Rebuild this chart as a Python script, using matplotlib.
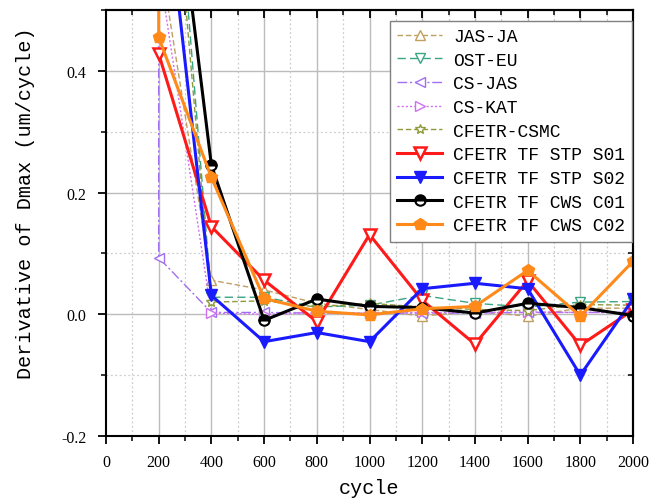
import matplotlib
matplotlib.use("Agg")
import matplotlib.pyplot as plt
from matplotlib.ticker import MultipleLocator

# ---- data ----
cycles = [200, 400, 600, 800, 1000, 1200, 1400, 1600, 1800, 2000]
cycles_dup = [200, 200, 400, 600, 800, 1000, 1200, 1400, 1600, 1800, 2000]

jas_ja = [0.60, 0.056, 0.040, 0.018, 0.008, -0.003, 0.005, -0.003, 0.010, 0.010]
ost_eu = [1.10, 0.028, 0.028, 0.012, 0.015, 0.031, 0.018, 0.012, 0.020, 0.021]
cs_jas = [0.60, 0.093, 0.003, 0.003, 0.002, 0.002, 0.002, 0.002, 0.003, 0.003, 0.003]
cs_kat = [0.57, 0.002, 0.000, 0.002, 0.002, 0.003, 0.003, 0.004, 0.003, 0.003]
csmc = [1.02, 0.020, 0.022, 0.012, 0.018, 0.012, 0.008, 0.006, 0.016, 0.015]
stp_s01 = [0.428, 0.144, 0.056, -0.012, 0.131, 0.023, -0.049, 0.055, -0.051, 0.007]
stp_s02 = [0.80, 0.031, -0.045, -0.030, -0.045, 0.042, 0.051, 0.042, -0.100, 0.025]
cws_c01 = [0.948, 0.245, -0.010, 0.025, 0.013, 0.011, 0.002, 0.018, 0.011, -0.002]
cws_c02 = [0.90, 0.455, 0.225, 0.026, 0.005, -0.001, 0.009, 0.013, 0.072, -0.003, 0.087]

x_ticks = list(range(0, 2001, 200))
y_ticks = [-0.2, 0.0, 0.2, 0.4]

mono = "Liberation Mono"
serif = "Liberation Serif"

fig = plt.figure(figsize=(6.65, 5.02), dpi=100)
ax = fig.add_axes([106 / 665, 1 - 437 / 502, 527 / 665, 426 / 502])

# grid
for yv in y_ticks:
    ax.axhline(yv, color="#bcbcbc", lw=1.0, zorder=0)
for yv in [-0.1, 0.1, 0.3]:
    ax.axhline(yv, color="#cccccc", lw=0.9, ls=(0, (1.5, 2)), zorder=0)
for xv in range(200, 2000, 200):
    ax.axvline(xv, color="#bcbcbc", lw=1.0, zorder=0)
for xv in range(100, 2000, 200):
    ax.axvline(xv, color="#cccccc", lw=0.9, ls=(0, (1.5, 2)), zorder=0)

thin = dict(lw=1.0, ms=7, mfc="white", mew=1.0)
ax.plot(cycles, jas_ja, ls=(0, (4, 2)), marker="^", color="#c0a060", label="JAS-JA", **thin)
ax.plot(cycles, ost_eu, ls=(0, (6, 3)), marker="v", color="#3aa584", label="OST-EU", **thin)
ax.plot(cycles_dup, cs_jas, ls=(0, (7, 2, 1.5, 2)), marker="<", color="#a070f0", label="CS-JAS", **thin)
ax.plot(cycles, cs_kat, ls=(0, (1.5, 1.5)), marker=">", color="#d070f0", label="CS-KAT", **thin)
ax.plot(cycles, csmc, ls=(0, (4, 2)), marker="*", color="#8f9a3a", label="CFETR-CSMC", **thin)

ax.plot(cycles, stp_s01, lw=2.2, color="#ff1a1a", marker="v", ms=8, mfc="white",
        mec="#ff1a1a", mew=1.8, label="CFETR TF STP S01")
ax.plot(cycles, stp_s02, lw=2.2, color="#1a1aff", marker="v", ms=8,
        label="CFETR TF STP S02")
ax.plot(cycles, cws_c01, lw=2.2, color="black", marker="o", ms=7.5, fillstyle="top",
        mfc="black", mfcalt="white", mec="black", mew=1.5, label="CFETR TF CWS C01")
ax.plot(cycles_dup, cws_c02, lw=2.2, color="#ff8a1a", marker="p", ms=9,
        label="CFETR TF CWS C02")

ax.set_xlim(0, 2000)
ax.set_ylim(-0.2, 0.5)
ax.set_xticks(x_ticks)
ax.set_yticks(y_ticks)
ax.set_yticklabels(["-0.2", "0.0", "0.2", "0.4"])
ax.xaxis.set_minor_locator(MultipleLocator(100))
ax.yaxis.set_minor_locator(MultipleLocator(0.1))
ax.tick_params(which="major", direction="out", length=6, width=1.3, labelsize=11.5)
ax.tick_params(axis="x", which="major", pad=7)
ax.tick_params(axis="y", which="major", pad=8)
ax.tick_params(which="minor", direction="out", length=3.5, width=1.1)
for lab in ax.get_xticklabels() + ax.get_yticklabels():
    lab.set_fontfamily(serif)

secx = ax.secondary_xaxis("top")
secx.set_xticks(x_ticks)
secx.xaxis.set_minor_locator(MultipleLocator(100))
secx.tick_params(which="both", direction="in", labeltop=False, labelbottom=False)
secx.tick_params(which="major", length=6, width=1.3)
secx.tick_params(which="minor", length=3.5, width=1.1)
secy = ax.secondary_yaxis("right")
secy.set_yticks(y_ticks)
secy.yaxis.set_minor_locator(MultipleLocator(0.1))
secy.tick_params(which="both", direction="in", labelright=False, labelleft=False)
secy.tick_params(which="major", length=6, width=1.3)
secy.tick_params(which="minor", length=3.5, width=1.1)
for sp in list(ax.spines.values()) + [secx.spines["top"], secy.spines["right"]]:
    sp.set_linewidth(1.5)

ax.set_xlabel("cycle", fontfamily=mono, fontsize=14.5)
ax.xaxis.set_label_coords(0.5, -0.098)
ax.set_ylabel("Derivative of Dmax (um/cycle)", fontfamily=mono, fontsize=14.5)
ax.yaxis.set_label_coords(-0.135, 0.55)

leg = ax.legend(loc="upper left", bbox_to_anchor=(0.539, 0.975), borderaxespad=0,
                prop={"family": mono, "size": 13}, handlelength=2.5, handletextpad=0.6,
                labelspacing=0.37, borderpad=0.4, fancybox=False, framealpha=1,
                edgecolor="#808080")
leg.get_frame().set_linewidth(1.0)

fig.savefig("out.png", dpi=100)
